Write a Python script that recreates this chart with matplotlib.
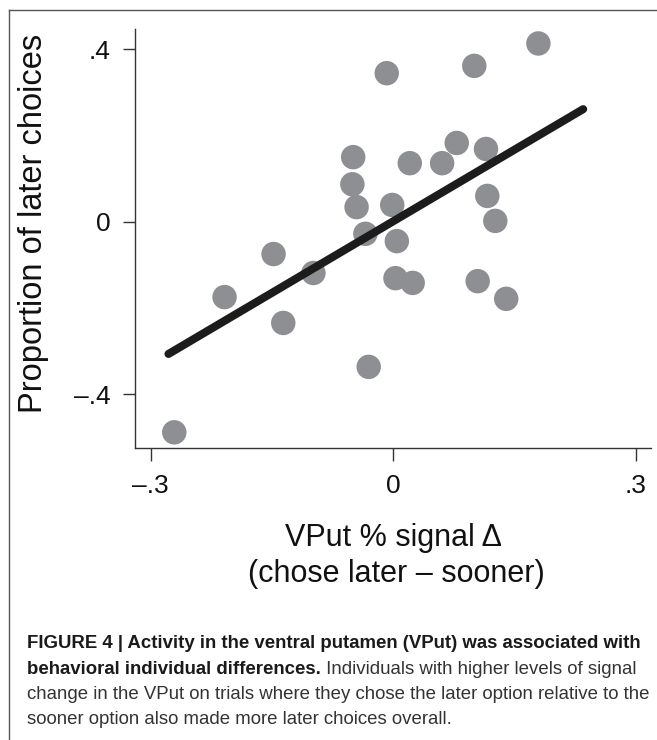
import matplotlib
matplotlib.use('Agg')
import matplotlib.pyplot as plt
from matplotlib.lines import Line2D

plt.rcParams['font.family'] = ['Liberation Sans', 'DejaVu Sans']

# VPut % signal change (chose later - sooner) per subject
vput_signal = [0.1796, -0.008, 0.1003, -0.0495, 0.0205, 0.0605, 0.0786, 0.1148,
               -0.0505, -0.0453, -0.0012, 0.1164, 0.1263, -0.0344, 0.0045, -0.148,
               -0.0987, -0.2086, -0.136, 0.0028, 0.0241, 0.1045, 0.1398, -0.0303,
               -0.2708]
# proportion of later choices per subject
later_choices = [0.414, 0.345, 0.362, 0.150, 0.136, 0.136, 0.183, 0.169,
                 0.087, 0.034, 0.039, 0.060, 0.002, -0.028, -0.045, -0.075,
                 -0.119, -0.175, -0.235, -0.131, -0.142, -0.138, -0.179, -0.337,
                 -0.489]
fit_x = [-0.278, 0.235]
fit_y = [-0.307, 0.2615]

x_ticks = [-0.3, 0, 0.3]
x_tick_labels = ['\u2013.3', '0', '.3']
y_ticks = [-0.4, 0, 0.4]
y_tick_labels = ['\u2013.4', '0', '.4']

caption_1 = 'FIGURE 4 | Activity in the ventral putamen (VPut) was associated with'
caption_2b = 'behavioral individual differences.'
caption_2 = ' Individuals with higher levels of signal'
caption_3 = 'change in the VPut on trials where they chose the later option relative to the'
caption_4 = 'sooner option also made more later choices overall.'

W, H = 657, 740
fx = lambda px: px / W
fy = lambda py: 1 - py / H

fig = plt.figure(figsize=(W / 100, H / 100), dpi=100)
ax = fig.add_axes([fx(135), fy(447.7), (651 - 135) / W, (447.7 - 29) / H])

ax.scatter(vput_signal, later_choices, s=310, c='#8e8f93', edgecolors='none',
           zorder=2, clip_on=False)
ax.plot(fit_x, fit_y, color='#1c1c1c', lw=5.8, solid_capstyle='round', zorder=3)

ax.set_xlim(-0.3194, 0.3189)
ax.set_ylim(-0.5247, 0.4476)
for s in ['top', 'right']:
    ax.spines[s].set_visible(False)
for s in ['left', 'bottom']:
    ax.spines[s].set_color('#333333')
    ax.spines[s].set_linewidth(1.0)

ax.set_xticks(x_ticks, x_tick_labels)
ax.set_yticks(y_ticks, y_tick_labels)
ax.tick_params(direction='out', length=9, width=1.0, color='#333333',
               labelsize=19, labelcolor='#111111')
ax.tick_params(axis='x', pad=10)
ax.tick_params(axis='y', pad=8.5)

# axis titles
fig.text(fx(34), fy(223), 'Proportion of later choices', rotation=90,
         ha='center', va='center', fontsize=23.5, color='#111111')
fig.text(fx(393), fy(546), 'VPut % signal \u0394', ha='center', va='baseline',
         fontsize=22, color='#111111')
fig.text(fx(396), fy(582), '(chose later \u2013 sooner)', ha='center', va='baseline',
         fontsize=22, color='#111111')

# frame
fig.add_artist(Line2D([fx(9.3), fx(9.3)], [0, fy(9.5)], color='#555555', lw=1.0,
                      transform=fig.transFigure))
fig.add_artist(Line2D([fx(9.3), 1], [fy(9.5), fy(9.5)], color='#555555', lw=1.0,
                      transform=fig.transFigure))

# caption
cap_size = 13.4
fig.text(fx(27), fy(648.5), caption_1, fontsize=cap_size, fontweight='bold',
         va='baseline', color='#1a1a1a')
tb = fig.text(fx(27), fy(673.7), caption_2b, fontsize=cap_size, fontweight='bold',
              va='baseline', color='#1a1a1a')
fig.canvas.draw()
bb = tb.get_window_extent(fig.canvas.get_renderer())
fig.text(bb.x1 / W, fy(673.7), caption_2, fontsize=cap_size, va='baseline',
         color='#333333')
fig.text(fx(27), fy(698.9), caption_3, fontsize=cap_size, va='baseline', color='#333333')
fig.text(fx(27), fy(724.1), caption_4, fontsize=cap_size, va='baseline', color='#333333')

fig.savefig('out.png', dpi=100)
